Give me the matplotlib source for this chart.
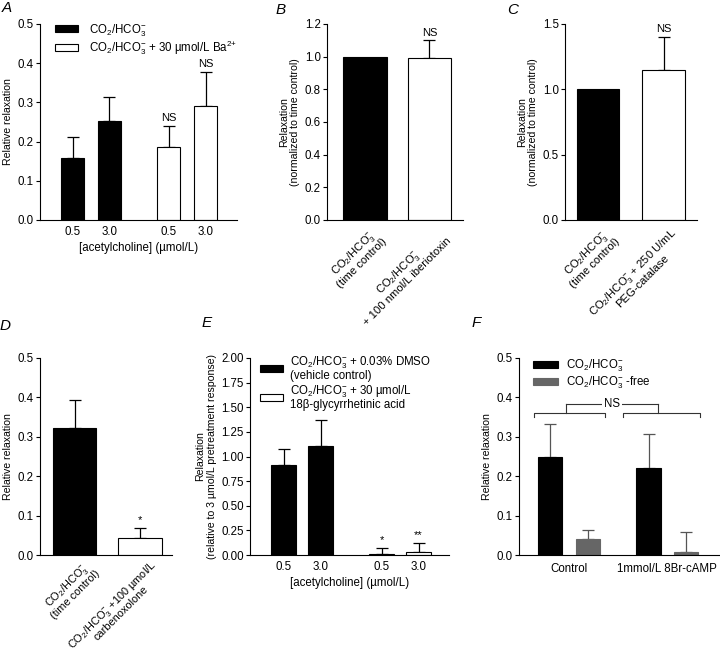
import matplotlib.pyplot as plt
import numpy as np

plt.rcParams['font.family'] = ['Liberation Sans', 'DejaVu Sans']
plt.rcParams['mathtext.fontset'] = 'custom'
plt.rcParams['mathtext.rm'] = 'Liberation Sans'
plt.rcParams['mathtext.it'] = 'Liberation Sans:italic'
plt.rcParams['mathtext.default'] = 'regular'
plt.rcParams['font.size'] = 8.3
plt.rcParams['axes.labelsize'] = 7.6
plt.rcParams['axes.linewidth'] = 0.8

CO2 = r'CO$_2$/HCO$_3^{-}$'

# panel A: Ba2+
a_ticks = ['0.5', '3.0', '0.5', '3.0']
a_mean = [0.157, 0.252, 0.187, 0.292]
a_sem = [0.056, 0.063, 0.054, 0.086]
a_sig = ['', '', 'NS', 'NS']

# panel B: iberiotoxin
b_ticks = [CO2 + '\n(time control)', CO2 + '\n+ 100 nmol/L iberiotoxin']
b_mean = [1.0, 0.99]
b_sem = [0.0, 0.11]
b_sig = ['', 'NS']

# panel C: PEG-catalase
c_ticks = [CO2 + '\n(time control)', CO2 + ' + 250 U/mL\nPEG-catalase']
c_mean = [1.0, 1.15]
c_sem = [0.0, 0.25]
c_sig = ['', 'NS']

# panel D: carbenoxolone
d_ticks = [CO2 + '\n(time control)', CO2 + ' +100 µmol/L\ncarbenoxolone']
d_mean = [0.323, 0.044]
d_sem = [0.070, 0.025]
d_sig = ['', '*']

# panel E: 18b-glycyrrhetinic acid
e_ticks = ['0.5', '3.0', '0.5', '3.0']
e_mean = [0.91, 1.11, 0.015, 0.03]
e_sem = [0.17, 0.26, 0.055, 0.09]
e_sig = ['', '', '*', '**']

# panel F: 8Br-cAMP
f_groups = ['Control', '1mmol/L 8Br-cAMP']
f_co2 = [0.25, 0.22]
f_co2_sem = [0.082, 0.087]
f_free = [0.04, 0.008]
f_free_sem = [0.023, 0.05]
f_ns_y = 0.36

W, H = 720, 653
fig = plt.figure(figsize=(W / 100, H / 100), dpi=100)
renderer = fig.canvas.get_renderer()


def px_axes(l, t, r, b):
    ax = fig.add_axes([l / W, 1 - b / H, (r - l) / W, (b - t) / H])
    ax.spines['top'].set_visible(False)
    ax.spines['right'].set_visible(False)
    ax.tick_params(axis='y', direction='out', length=3, width=0.8, pad=1.5)
    ax.tick_params(axis='x', length=0, pad=4)
    return ax


def bars(ax, x, mean, sem, color, width, edge='black', ecolor='black', label=None):
    ax.bar(x, mean, width, color=color, edgecolor=edge, linewidth=0.8,
           label=label, zorder=2)
    for xi, m, s in zip(x, mean, sem):
        if s > 0:
            ax.errorbar(xi, m, yerr=[[0], [s]], fmt='none', ecolor=ecolor,
                        elinewidth=0.9, capsize=4.5, capthick=0.9, zorder=1)


def stars(ax, x, mean, sem, sig):
    for xi, m, s, t in zip(x, mean, sem, sig):
        if t:
            ax.annotate(t, (xi, m + s), xytext=(0, 2), textcoords='offset points',
                        ha='center', va='bottom', fontsize=8)


def text_width(s, size):
    t = fig.text(0, 0, s, fontsize=size)
    w = t.get_window_extent(renderer).width * 72 / fig.dpi
    t.remove()
    return w


def rot_labels(ax, x, labels, size=8.1, pad=4, ang=45):
    # each line is its own rotated text, centred on a common axis
    ax.set_xticks(x)
    ax.set_xticklabels([])
    u = np.array([np.cos(np.radians(ang)), np.sin(np.radians(ang))])
    n = np.array([u[1], -u[0]])
    lh = size * 1.3
    for xi, lab in zip(x, labels):
        lines = lab.split('\n')
        wmax = max(text_width(l, size) for l in lines)
        for i, l in enumerate(lines):
            off = np.array([0, -pad]) - wmax / 2 * u + i * lh * n
            ax.annotate(l, (xi, 0), xycoords=('data', 'axes fraction'),
                        xytext=tuple(off), textcoords='offset points',
                        ha='center', va='top', rotation=ang,
                        rotation_mode='anchor', fontsize=size)


def yticks(ax, top, step, fmt):
    vals = np.arange(0, top + step / 2, step)
    ax.set_ylim(0, top)
    ax.set_yticks(vals)
    ax.set_yticklabels([fmt.format(v) for v in vals])


def tight_legend(leg, ls=1.0):
    for t in leg.get_texts():
        t.set_linespacing(ls)


# ---- A
ax = px_axes(40, 24, 237, 220)
xa = np.array([0, 1, 2.6, 3.6])
bars(ax, xa[:2], a_mean[:2], a_sem[:2], 'black', 0.63, label=CO2)
bars(ax, xa[2:], a_mean[2:], a_sem[2:], 'white', 0.63,
     label=CO2 + r' + 30 µmol/L Ba$^{2{+}}$')
stars(ax, xa, a_mean, a_sem, a_sig)
ax.set_xlim(-0.88, 4.45)
yticks(ax, 0.5, 0.1, '{:.1f}')
ax.set_xticks(xa)
ax.set_xticklabels(a_ticks)
ax.set_xlabel('[acetylcholine] (µmol/L)', labelpad=3, fontsize=8.3)
ax.set_ylabel('Relative relaxation', labelpad=3)
ax.legend(loc='upper left', bbox_to_anchor=(0.075, 1.01), frameon=False,
          handlelength=2.0, handleheight=0.55, handletextpad=1.0,
          labelspacing=0.0, borderpad=0, borderaxespad=0)

# ---- B
ax = px_axes(327, 24, 463, 220)
xb = np.array([0, 1])
bars(ax, xb[:1], b_mean[:1], b_sem[:1], 'black', 0.67)
bars(ax, xb[1:], b_mean[1:], b_sem[1:], 'white', 0.67)
stars(ax, xb, b_mean, b_sem, b_sig)
ax.set_xlim(-0.59, 1.52)
yticks(ax, 1.2, 0.2, '{:.1f}')
rot_labels(ax, xb + 0.1, b_ticks)
ax.set_ylabel('Relaxation\n(normalized to time control)', labelpad=3)

# ---- C
ax = px_axes(565, 24, 697, 220)
xc = np.array([0, 1])
bars(ax, xc[:1], c_mean[:1], c_sem[:1], 'black', 0.64)
bars(ax, xc[1:], c_mean[1:], c_sem[1:], 'white', 0.64)
stars(ax, xc, c_mean, c_sem, c_sig)
ax.set_xlim(-0.5, 1.51)
yticks(ax, 1.5, 0.5, '{:.1f}')
rot_labels(ax, xc + 0.1, c_ticks)
ax.set_ylabel('Relaxation\n(normalized to time control)', labelpad=3)

# ---- D
ax = px_axes(40, 358, 172, 555)
xd = np.array([0, 1])
bars(ax, xd[:1], d_mean[:1], d_sem[:1], 'black', 0.66)
bars(ax, xd[1:], d_mean[1:], d_sem[1:], 'white', 0.66)
stars(ax, xd, d_mean, d_sem, d_sig)
ax.set_xlim(-0.53, 1.49)
yticks(ax, 0.5, 0.1, '{:.1f}')
rot_labels(ax, xd + 0.15, d_ticks, size=7.9, pad=2)
ax.set_ylabel('Relative relaxation', labelpad=3)

# ---- E
ax = px_axes(250, 358, 449, 555)
xe = np.array([0, 1, 2.65, 3.65])
bars(ax, xe[:2], e_mean[:2], e_sem[:2], 'black', 0.68,
     label=CO2 + ' + 0.03% DMSO\n(vehicle control)')
bars(ax, xe[2:], e_mean[2:], e_sem[2:], 'white', 0.68,
     label=CO2 + ' + 30 µmol/L\n18β-glycyrrhetinic acid')
stars(ax, xe, e_mean, e_sem, e_sig)
ax.set_xlim(-0.905, 4.47)
yticks(ax, 2.0, 0.25, '{:.2f}')
ax.set_xticks(xe)
ax.set_xticklabels(e_ticks)
ax.set_xlabel('[acetylcholine] (µmol/L)', labelpad=3, fontsize=8.3)
ax.set_ylabel('Relaxation\n(relative to 3 µmol/L pretreatment response)', labelpad=3)
leg = ax.legend(loc='upper left', bbox_to_anchor=(0.05, 1.02), frameon=False,
                handlelength=2.0, handleheight=0.6, handletextpad=0.6,
                labelspacing=0.1, borderpad=0, borderaxespad=0)
tight_legend(leg, 0.95)

# ---- F
ax = px_axes(519, 358, 719, 555)
gray = '#666666'
xf = np.array([0, 2.68])
bars(ax, xf, f_co2, f_co2_sem, 'black', 0.66, ecolor='#555555', label=CO2)
bars(ax, xf + 1.02, f_free, f_free_sem, gray, 0.66, edge=gray, ecolor='#555555',
     label=CO2 + ' -free')
ax.set_xlim(-0.85, 4.6)
yticks(ax, 0.5, 0.1, '{:.1f}')
ax.set_xticks(xf + 0.51)
ax.set_xticklabels(f_groups)
ax.tick_params(axis='x', pad=6)
ax.set_ylabel('Relative relaxation', labelpad=3)
ax.legend(loc='upper left', bbox_to_anchor=(0.07, 1.0), frameon=False,
          handlelength=2.2, handleheight=0.55, handletextpad=0.7,
          labelspacing=0.0, borderpad=0, borderaxespad=0)
# NS bracket between groups
lk = dict(color='#333333', lw=0.8, clip_on=False)
mids = []
for lo, hi in [(xf[0] - 0.44, xf[0] + 1.49), (xf[1] - 0.69, xf[1] + 1.39)]:
    ax.plot([lo, lo, hi, hi], [f_ns_y - 0.01, f_ns_y, f_ns_y, f_ns_y - 0.01], **lk)
    mid = lo + (hi - lo) * 0.45
    ax.plot([mid, mid], [f_ns_y, f_ns_y + 0.024], **lk)
    mids.append(mid)
ax.plot(mids, [f_ns_y + 0.024] * 2, **lk)
ax.text(np.mean(mids), f_ns_y + 0.024, 'NS', ha='center', va='center',
        fontsize=8.3, bbox=dict(facecolor='white', edgecolor='none', pad=1.5))

# panel letters
for lab, x, y in [('A', 2, 1), ('B', 276, 3), ('C', 507, 3),
                  ('D', 0, 319), ('E', 202, 316), ('F', 472, 316)]:
    fig.text(x / W, 1 - y / H, lab, fontsize=11, style='italic',
             ha='left', va='top')

fig.savefig('out.png', dpi=100)
